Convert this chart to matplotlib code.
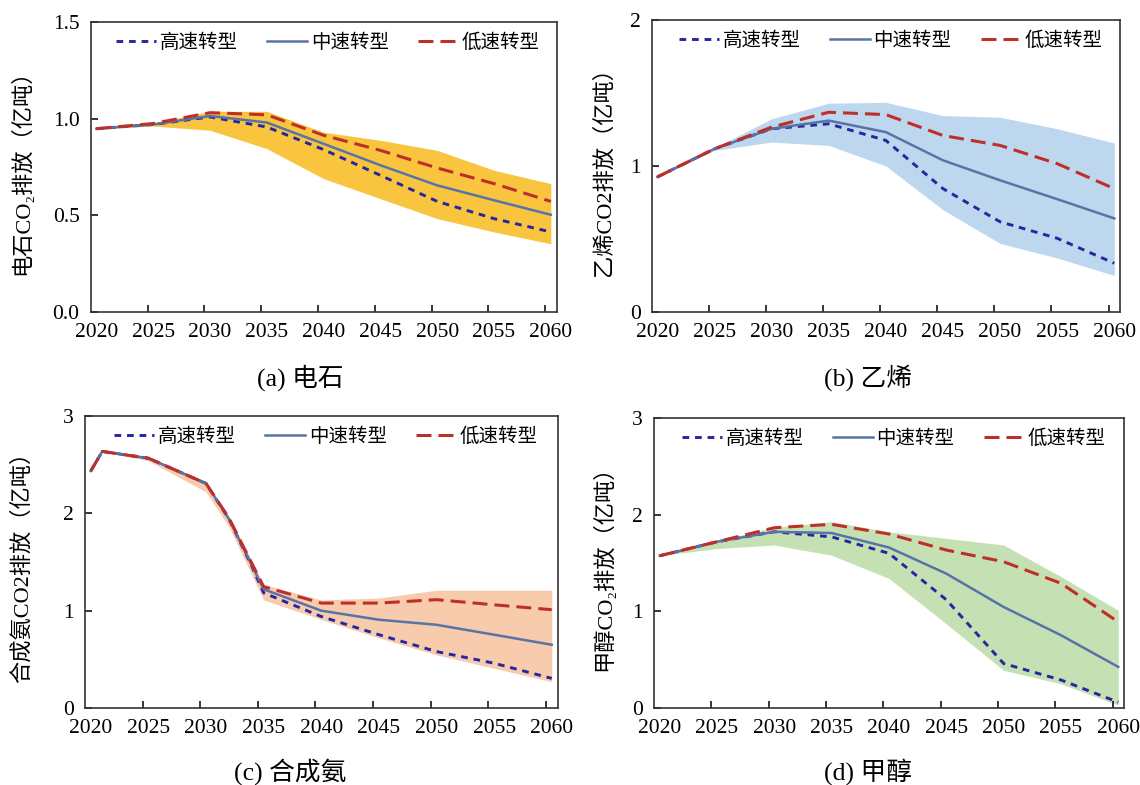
import numpy as np
import matplotlib
matplotlib.use("Agg")
import matplotlib.pyplot as plt

plt.rcParams['font.family'] = ['Liberation Serif', 'Noto Sans CJK SC', 'DejaVu Serif']
plt.rcParams['axes.linewidth'] = 1.2

scenarios = ["高速转型", "中速转型", "低速转型"]

# (a) 电石
years_a = [2020, 2025, 2030, 2035, 2040, 2045, 2050, 2055, 2060]
high_a = [0.948, 0.97, 1.009, 0.957, 0.84, 0.707, 0.572, 0.483, 0.414]
mid_a = [0.948, 0.97, 1.014, 0.98, 0.87, 0.759, 0.655, 0.578, 0.503]
low_a = [0.948, 0.975, 1.031, 1.02, 0.914, 0.836, 0.745, 0.664, 0.572]
upper_a = [0.948, 0.978, 1.038, 1.038, 0.93, 0.888, 0.836, 0.733, 0.664]
lower_a = [0.948, 0.962, 0.94, 0.845, 0.69, 0.586, 0.483, 0.414, 0.353]

# (b) 乙烯
years_b = [2020, 2025, 2030, 2035, 2040, 2045, 2050, 2055, 2060]
high_b = [0.925, 1.118, 1.255, 1.289, 1.175, 0.845, 0.618, 0.505, 0.334]
mid_b = [0.925, 1.118, 1.255, 1.311, 1.232, 1.039, 0.902, 0.773, 0.641]
low_b = [0.925, 1.118, 1.266, 1.368, 1.352, 1.209, 1.141, 1.016, 0.845]
upper_b = [0.925, 1.125, 1.323, 1.43, 1.436, 1.345, 1.334, 1.255, 1.157]
lower_b = [0.925, 1.107, 1.164, 1.141, 1.0, 0.70, 0.47, 0.37, 0.25]

# (c) 合成氨
years_c = [2020, 2021, 2025, 2030, 2032, 2034, 2035, 2040, 2045, 2050, 2055, 2060]
high_c = [2.435, 2.636, 2.566, 2.307, 1.94, 1.45, 1.183, 0.94, 0.753, 0.58, 0.46, 0.304]
mid_c = [2.435, 2.636, 2.566, 2.307, 1.94, 1.46, 1.22, 1.0, 0.907, 0.855, 0.753, 0.65]
low_c = [2.435, 2.636, 2.566, 2.307, 1.95, 1.48, 1.247, 1.078, 1.078, 1.113, 1.06, 1.01]
upper_c = [2.435, 2.636, 2.585, 2.325, 1.97, 1.51, 1.27, 1.11, 1.13, 1.21, 1.21, 1.21]
lower_c = [2.435, 2.636, 2.54, 2.22, 1.86, 1.36, 1.11, 0.91, 0.72, 0.546, 0.408, 0.27]

# (d) 甲醇
years_d = [2020, 2025, 2030, 2035, 2040, 2045, 2050, 2055, 2060]
high_d = [1.575, 1.72, 1.823, 1.77, 1.6, 1.12, 0.46, 0.29, 0.06]
mid_d = [1.575, 1.72, 1.823, 1.81, 1.66, 1.39, 1.045, 0.753, 0.425]
low_d = [1.575, 1.72, 1.865, 1.9, 1.8, 1.634, 1.513, 1.29, 0.89]
upper_d = [1.575, 1.73, 1.87, 1.927, 1.823, 1.755, 1.686, 1.36, 1.01]
lower_d = [1.575, 1.65, 1.686, 1.58, 1.34, 0.87, 0.39, 0.25, 0.03]

panels = [
    dict(years=years_a, high=high_a, mid=mid_a, low=low_a, upper=upper_a, lower=lower_a,
         fill='#F9C53F', ymax=1.5, yticks=[0.0, 0.5, 1.0, 1.5], fmt='{:.1f}',
         ylabel='电石CO₂排放（亿吨）', caption='(a) 电石',
         box=(90.7, 556.5, 22, 312), ylab_x=22, cap=(300, 378)),
    dict(years=years_b, high=high_b, mid=mid_b, low=low_b, upper=upper_b, lower=lower_b,
         fill='#BDD7EE', ymax=2, yticks=[0, 1, 2], fmt='{:.0f}',
         ylabel='乙烯CO2排放（亿吨）', caption='(b) 乙烯',
         box=(651.7, 1120, 20, 312), ylab_x=604, cap=(868, 378)),
    dict(years=years_c, high=high_c, mid=mid_c, low=low_c, upper=upper_c, lower=lower_c,
         fill='#F8CBAD', ymax=3, yticks=[0, 1, 2, 3], fmt='{:.0f}',
         ylabel='合成氨CO2排放（亿吨）', caption='(c) 合成氨',
         box=(85, 557.5, 416, 708), ylab_x=22, cap=(290, 772)),
    dict(years=years_d, high=high_d, mid=mid_d, low=low_d, upper=upper_d, lower=lower_d,
         fill='#C5E0B3', ymax=3, yticks=[0, 1, 2, 3], fmt='{:.0f}',
         ylabel='甲醇CO₂排放（亿吨）', caption='(d) 甲醇',
         box=(654, 1124, 418, 708), ylab_x=604, cap=(868, 772)),
]

W, H = 1140, 785
fig = plt.figure(figsize=(W / 100, H / 100), dpi=100)

label_years = list(range(2020, 2061, 5))
boundaries = [y - 0.5 for y in label_years[1:]]

for p in panels:
    l, r, t, b = p['box']
    ax = fig.add_axes([l / W, 1 - b / H, (r - l) / W, (b - t) / H])
    ax.fill_between(p['years'], p['lower'], p['upper'], color=p['fill'], lw=0)
    h1, = ax.plot(p['years'], p['high'], color='#2626A0', lw=2.1, dashes=(2.3, 2.0))
    h2, = ax.plot(p['years'], p['mid'], color='#5874A6', lw=1.8)
    h3, = ax.plot(p['years'], p['low'], color='#BF2F2A', lw=2.2, dashes=(4.9, 2.3))
    ax.set_xlim(2019.5, 2060.5)
    ax.set_ylim(0, p['ymax'])
    ax.set_xticks(label_years)
    ax.set_xticklabels([str(y) for y in label_years])
    ax.set_xticks(boundaries, minor=True)
    ax.tick_params(axis='x', which='major', length=0, pad=8, labelsize=15.5)
    ax.tick_params(axis='x', which='minor', direction='in', length=5, width=1.1)
    ax.set_yticks(p['yticks'])
    ax.set_yticklabels([p['fmt'].format(v) for v in p['yticks']])
    ax.tick_params(axis='y', direction='in', length=5, width=1.1, pad=8, labelsize=15.5)
    for s in ax.spines.values():
        s.set_color('#333333')
    ax.legend([h1, h2, h3], scenarios, loc='upper center', bbox_to_anchor=(0.51, 1.02),
              ncol=3, frameon=False, fontsize=14, handlelength=2.05,
              handletextpad=0.2, columnspacing=1.5)
    fig.text(p['ylab_x'] / W, 1 - (t + b) / 2 / H, p['ylabel'], rotation=90,
             ha='center', va='center', fontsize=16)
    fig.text(p['cap'][0] / W, 1 - p['cap'][1] / H, p['caption'],
             ha='center', va='center', fontsize=18.5)

fig.savefig('out.png', dpi=100)
